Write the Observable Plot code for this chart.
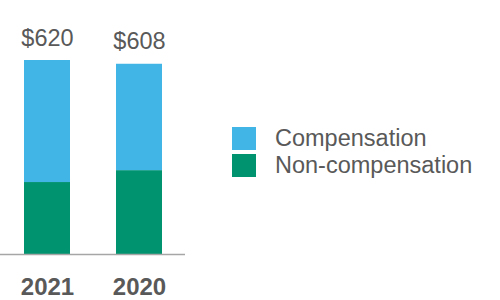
<!DOCTYPE html>
<html>
<head>
<meta charset="utf-8">
<script src="https://cdn.jsdelivr.net/npm/d3@7"></script>
<script src="https://cdn.jsdelivr.net/npm/@observablehq/plot@0.6"></script>
<style>
  html, body { margin: 0; padding: 0; background: #fff; }
  #wrap { position: relative; width: 500px; height: 300px; font-family: "Liberation Sans", Arial, sans-serif; }
  #legend { position: absolute; left: 232px; top: 125px; color: #595959; font-size: 23.5px; }
  .item { display: flex; align-items: center; height: 27px; }
  .sw { width: 24px; height: 23px; margin-right: 19px; }
</style>
</head>
<body>
<div id="wrap"></div>
<script>
const years = ["2021", "2020"];
const compensation = [390, 340];
const nonCompensation = [230, 268];
const totals = [620, 608];
const seriesNames = ["Compensation", "Non-compensation"];
const seriesColors = ["#41b6e6", "#00936f"];

const rows = [];
years.forEach((y, i) => {
  rows.push({year: y, series: "Non-compensation", value: nonCompensation[i]});
  rows.push({year: y, series: "Compensation", value: compensation[i]});
});
const totalRows = years.map((y, i) => ({year: y, total: totals[i]}));

const chart = Plot.plot({
  width: 185,
  height: 300,
  marginLeft: 0,
  marginRight: 0,
  marginTop: 0,
  marginBottom: 46,
  style: {fontFamily: "'Liberation Sans', Arial, sans-serif", background: "transparent"},
  x: {domain: years, range: [1, 185], paddingInner: 0.5, paddingOuter: 0.25, axis: null},
  y: {domain: [0, 620], range: [254, 60], axis: null},
  color: {domain: seriesNames, range: seriesColors},
  marks: [
    Plot.barY(rows, Plot.stackY({
      x: "year", y: "value", fill: "series",
      order: ["Non-compensation", "Compensation"]
    })),
    Plot.ruleY([0], {stroke: "#a6a6a6", strokeWidth: 1.5}),
    Plot.text(totalRows, {
      x: "year", y: "total", text: d => "$" + d.total,
      lineAnchor: "bottom", dy: -15, fontSize: 23.5, fill: "#595959"
    }),
    Plot.text(years, {
      x: d => d, frameAnchor: "bottom", lineAnchor: "top", dy: 23,
      text: d => d, fontSize: 24, fontWeight: "bold", fill: "#595959"
    })
  ]
});
document.getElementById("wrap").appendChild(chart);

const legend = document.createElement("div");
legend.id = "legend";
seriesNames.forEach((name, i) => {
  const item = document.createElement("div");
  item.className = "item";
  const sw = document.createElement("div");
  sw.className = "sw";
  sw.style.background = seriesColors[i];
  const label = document.createElement("span");
  label.textContent = name;
  item.appendChild(sw);
  item.appendChild(label);
  legend.appendChild(item);
});
document.getElementById("wrap").appendChild(legend);
</script>
</body>
</html>
